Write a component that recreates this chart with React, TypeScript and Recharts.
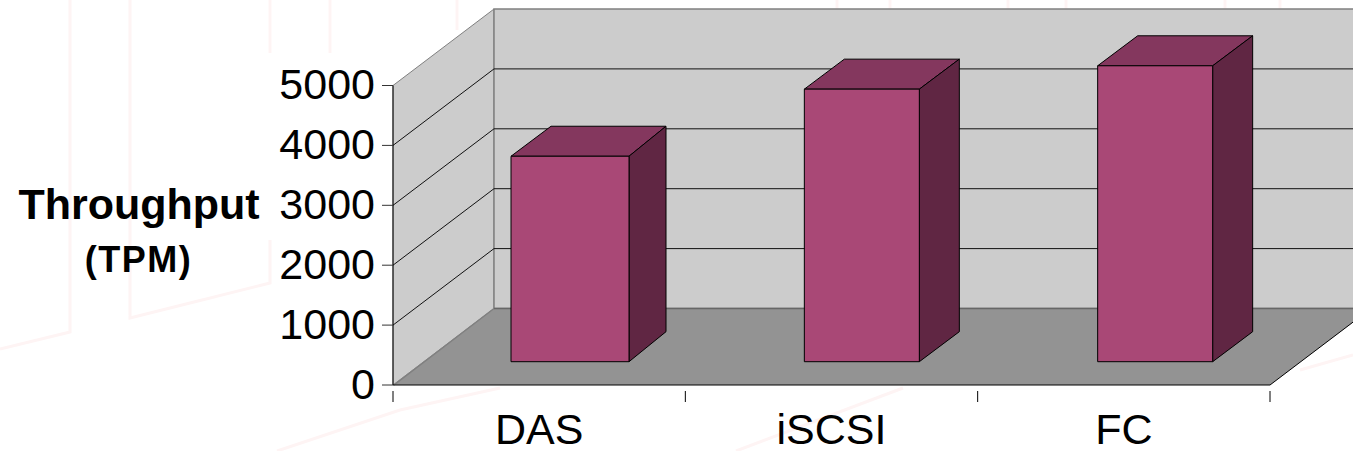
import { BarChart, Bar, XAxis, YAxis, CartesianGrid } from 'recharts';

const categories = ['DAS', 'iSCSI', 'FC'];
const throughput = [3430, 4550, 4940];
const yTicks = [0, 1000, 2000, 3000, 4000, 5000];
const gridValues = [1000, 2000, 3000, 4000];

const chartData = categories.map((name, i) => ({ name, throughput: throughput[i] }));

// plot box of the chart, the walls underneath are lined up with it
const PLOT_LEFT = 393;
const PLOT_RIGHT = 1270;
const PLOT_TOP = 85.5;
const PLOT_BOTTOM = 385;

// fake 3D: the box is pushed back by this much, bars sit part way in
const WALL_DX = 101;
const WALL_DY = 76.5;
const BAR_SHIFT_X = 30;
const BAR_SHIFT_Y = 23.3;
const BAR_DX = 40;
const BAR_DY = 30;
const FONT = 'Liberation Sans, Arial, sans-serif';
const WATERMARK = '#fef4f4';

// faint slide template behind the chart
const watermarkPaths = [
  'M70,0 L70,332 L0,349',
  'M130,0 L130,318 L270,283 L270,240',
  'M270,0 L270,53',
  'M330,0 L330,53',
  'M457,0 L457,30',
  'M277,451 L400,410 L500,388',
  'M736,451 L903,388',
  'M1300,370 L1353,355',
  'M837,0 L837,9',
  'M890,0 L890,9',
  'M1008,0 L1008,9',
  'M1066,0 L1066,9',
  'M1225,0 L1225,9',
  'M1280,0 L1280,9',
];

function Walls() {
  const x = PLOT_LEFT;
  const y = PLOT_TOP;
  const bottom = PLOT_BOTTOM;
  const right = PLOT_RIGHT;
  return (
    <svg width={1353} height={451} style={{ position: 'absolute', left: 0, top: 0 }}>
      {watermarkPaths.map((d) => (
        <path key={d} d={d} fill="none" stroke={WATERMARK} strokeWidth={3} />
      ))}
      <polygon
        points={`${x},${bottom} ${x + WALL_DX},${bottom - WALL_DY} ${x + WALL_DX},${y - WALL_DY} ${x},${y}`}
        fill="#cccccc"
        stroke="#808080"
        strokeWidth={1}
      />
      <polygon
        points={`${x + WALL_DX},${bottom - WALL_DY} ${right + WALL_DX},${bottom - WALL_DY} ${right + WALL_DX},${y - WALL_DY} ${x + WALL_DX},${y - WALL_DY}`}
        fill="#cccccc"
        stroke="#808080"
        strokeWidth={1.5}
      />
      <polygon
        points={`${x},${bottom} ${right},${bottom} ${right + WALL_DX},${bottom - WALL_DY} ${x + WALL_DX},${bottom - WALL_DY}`}
        fill="#939393"
      />
      <line x1={x + 1} y1={bottom} x2={x + WALL_DX} y2={bottom - WALL_DY} stroke="#808080" strokeWidth={1.5} />
      <line x1={x + WALL_DX} y1={bottom - WALL_DY} x2={right + WALL_DX} y2={bottom - WALL_DY} stroke="#666666" strokeWidth={1.5} />
      <line x1={right} y1={bottom} x2={right + WALL_DX} y2={bottom - WALL_DY} stroke="#000000" strokeWidth={1} />
    </svg>
  );
}

function WallLine(props: any) {
  const { x1, y1, x2, index } = props;
  return (
    <polyline
      key={`wall-line-${index}`}
      points={`${x1},${y1} ${x1 + WALL_DX},${y1 - WALL_DY} ${x2 + WALL_DX},${y1 - WALL_DY}`}
      fill="none"
      stroke="#111111"
      strokeWidth={1}
    />
  );
}

function CategoryTick(props: any) {
  const { x, y, payload, index } = props;
  const half = payload.offset;
  const axisY = y - 29;
  return (
    <g>
      <line x1={x - half} y1={axisY} x2={x - half} y2={axisY + 11} stroke="#000000" />
      {index === categories.length - 1 && (
        <line x1={x + half} y1={axisY} x2={x + half} y2={axisY + 11} stroke="#000000" />
      )}
      <text x={x} y={y + 24} textAnchor="middle" fontFamily={FONT} fontSize={43} fill="#000000">
        {payload.value}
      </text>
    </g>
  );
}

function Box3D(props: any) {
  const { x, y, width, height, index } = props;
  // bars in the original drift right a little, and the first front face is a bit wider
  const left = x + BAR_SHIFT_X + index - 1;
  const right = left + width;
  const frontRight = index === 0 ? right + 3 : right;
  const top = y - BAR_SHIFT_Y;
  const bottom = top + height;
  return (
    <g stroke="#000000" strokeWidth={1} strokeLinejoin="round">
      <polygon
        points={`${left},${top} ${left + BAR_DX},${top - BAR_DY} ${right + BAR_DX},${top - BAR_DY} ${frontRight},${top}`}
        fill="#84375e"
      />
      <polygon
        points={`${frontRight},${top} ${right + BAR_DX},${top - BAR_DY} ${right + BAR_DX},${bottom - BAR_DY} ${frontRight},${bottom}`}
        fill="#602643"
      />
      <rect x={left} y={top} width={frontRight - left} height={height} fill="#a94876" />
    </g>
  );
}

export default function App() {
  return (
    <div style={{ position: 'absolute', left: 0, top: 0, width: 1353, height: 451, overflow: 'hidden', background: '#ffffff' }}>
      <Walls />
      <div style={{ position: 'absolute', left: 0, top: 0 }}>
        <BarChart
          width={1353}
          height={451}
          data={chartData}
          margin={{ top: PLOT_TOP, right: 1353 - PLOT_RIGHT, bottom: 0, left: 0 }}
          barCategoryGap={0}
          barSize={115}
        >
          <CartesianGrid vertical={false} horizontal={WallLine} horizontalValues={gridValues} />
          <XAxis
            dataKey="name"
            interval={0}
            height={451 - PLOT_BOTTOM}
            tickLine={false}
            tickMargin={29}
            axisLine={{ stroke: '#000000' }}
            tick={CategoryTick}
          />
          <YAxis
            domain={[0, 5000]}
            ticks={yTicks}
            interval={0}
            width={PLOT_LEFT}
            tickLine={{ stroke: '#333333' }}
            tickSize={11}
            tickMargin={7}
            axisLine={{ stroke: '#000000' }}
            tick={{ fontSize: 43, fontFamily: FONT, fill: '#000000', dy: -1.5 }}
          />
          <Bar dataKey="throughput" shape={Box3D} isAnimationActive={false} />
          <text x={139} y={219} textAnchor="middle" fontFamily={FONT} fontWeight={700} fontSize={43} fill="#000000">
            Throughput
          </text>
          <text x={138.5} y={272} textAnchor="middle" fontFamily={FONT} fontWeight={700} fontSize={36} letterSpacing={1.5} fill="#000000">
            (TPM)
          </text>
        </BarChart>
      </div>
    </div>
  );
}
